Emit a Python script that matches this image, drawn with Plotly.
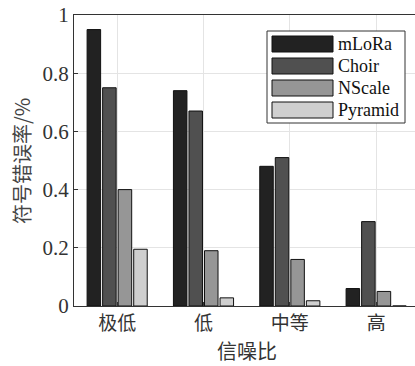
import plotly.graph_objects as go

categories = ["极低", "低", "中等", "高"]
series_names = ["mLoRa", "Choir", "NScale", "Pyramid"]
mlora = [0.95, 0.74, 0.48, 0.06]
choir = [0.75, 0.67, 0.51, 0.29]
nscale = [0.40, 0.19, 0.16, 0.05]
pyramid = [0.195, 0.028, 0.018, 0.0]
colors = ["#222222", "#505050", "#969696", "#cfcfcf"]
y_ticks = [0, 0.2, 0.4, 0.6, 0.8, 1]
y_tick_text = ["0", "0.2", "0.4", "0.6", "0.8", "1"]
x_title = "信噪比"
y_title = "符号错误率/%"

W, H = 415, 366
ML, MR, MT, MB = 74, 0, 15, 60
PW, PH = W - ML - MR, H - MT - MB

serif = "Liberation Serif, Times New Roman, serif"
cjk = "Noto Sans CJK SC"

fig = go.Figure()
xs = list(range(1, len(categories) + 1))
for name, vals, col in zip(series_names, [mlora, choir, nscale, pyramid], colors):
    fig.add_trace(go.Bar(
        x=xs, y=vals, name=name, marker=dict(color=col, line=dict(color="#111111", width=1)),
        showlegend=False,
    ))

def px(x):
    return (x - ML) / PW

def py(y):
    return 1 - (y - MT) / PH

shapes = []
annotations = []
# legend box
shapes.append(dict(type="rect", xref="paper", yref="paper", x0=px(267), x1=px(405), y0=py(123), y1=py(31),
                   line=dict(color="#333333", width=1), fillcolor="white", layer="above"))
for i, (name, col) in enumerate(zip(series_names, colors)):
    top = 36 + i * 22
    shapes.append(dict(type="rect", xref="paper", yref="paper", x0=px(272), x1=px(333), y0=py(top + 16), y1=py(top),
                       line=dict(color="#111111", width=1), fillcolor=col, layer="above"))
    annotations.append(dict(xref="paper", yref="paper", x=px(336), y=py(top + 8), text=name, showarrow=False,
                            xanchor="left", yanchor="middle", font=dict(family=serif, size=18, color="#111111")))

annotations.append(dict(xref="paper", yref="paper", x=px(247), y=py(351), text=x_title, showarrow=False,
                        xanchor="center", yanchor="middle", font=dict(family=cjk, size=20, color="#333333")))
annotations.append(dict(xref="paper", yref="paper", x=px(21), y=py(161), text=y_title, showarrow=False,
                        textangle=-90, xanchor="center", yanchor="middle",
                        font=dict(family=cjk, size=20, color="#444444")))

fig.update_layout(
    width=W, height=H,
    margin=dict(l=ML, r=MR, t=MT, b=MB),
    plot_bgcolor="white", paper_bgcolor="white",
    barmode="group", bargap=0.28, bargroupgap=0.13,
    shapes=shapes, annotations=annotations,
    xaxis=dict(
        range=[0.5, 4.45], tickvals=xs, ticktext=categories, automargin=False,
        tickfont=dict(family=cjk, size=19, color="#333333"),
        showgrid=True, gridcolor="#e4e4e4", gridwidth=1,
        showline=True, linecolor="#333333", linewidth=1, mirror=True,
        ticks="inside", ticklen=4, tickcolor="#333333",
        zeroline=False,
    ),
    yaxis=dict(
        range=[0, 1], tickvals=y_ticks, ticktext=y_tick_text, automargin=False,
        tickfont=dict(family=serif, size=21, color="#333333"),
        showgrid=True, gridcolor="#e4e4e4", gridwidth=1,
        showline=True, linecolor="#333333", linewidth=1, mirror=False,
        ticks="inside", ticklen=4, tickcolor="#333333",
        zeroline=False,
    ),
)

fig.write_html("out.html", config={"displayModeBar": False},
               post_script="document.body.style.margin='0';document.body.style.overflow='hidden';")
